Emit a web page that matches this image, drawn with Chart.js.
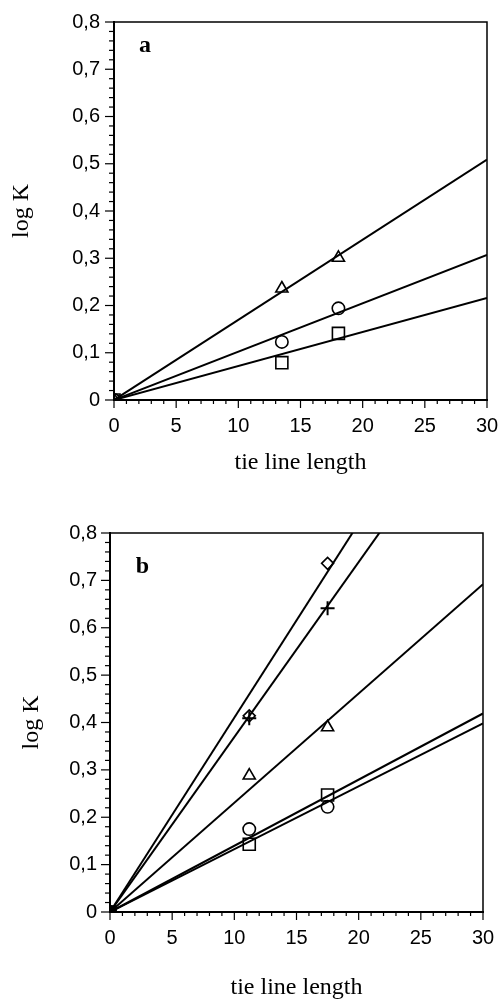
<!DOCTYPE html>
<html>
<head>
<meta charset="utf-8">
<script src="https://cdn.jsdelivr.net/npm/chart.js@4.4.1/dist/chart.umd.min.js"></script>
<style>
html, body { margin: 0; padding: 0; background: #fff; overflow: hidden; }
#wrapA { position: absolute; left: 0; top: 0; }
#wrapB { position: absolute; left: 0; top: 480px; }
</style>
</head>
<body>
<div id="wrapA"><canvas id="chartA" width="498" height="480"></canvas></div>
<div id="wrapB"><canvas id="chartB" width="498" height="540"></canvas></div>
<script>
// tick labels, comma decimals as in the figure
var xTickLabels = ['0', '5', '10', '15', '20', '25', '30'];
var yTickLabels = ['0', '0,1', '0,2', '0,3', '0,4', '0,5', '0,6', '0,7', '0,8'];

// panel a
var lengthA = [0, 13.5, 18.05];
var triangleA = [0, 0.236, 0.301];
var circleA = [0, 0.123, 0.194];
var squareA = [0, 0.079, 0.141];
// fitted lines from the origin: value at length 30 (triangle, circle, square)
var fitEndA = [0.509, 0.307, 0.216];

// panel b
var lengthB = [0, 11.2, 17.5];
var diamondB = [0, 0.414, 0.736];
var plusB = [0, 0.409, 0.641];
var triangleB = [0, 0.288, 0.390];
var circleB = [0, 0.175, 0.222];
var squareB = [0, 0.143, 0.247];
// diamond, plus, triangle, circle, square
var fitEndB = [1.231, 1.108, 0.692, 0.398, 0.419];

function pts(xs, ys) {
    return xs.map(function (x, i) { return { x: x, y: ys[i] }; });
}

function markers(xs, ys, style, r, bw) {
    return {
        data: pts(xs, ys),
        pointStyle: style,
        pointRadius: r,
        pointBorderColor: '#000',
        pointBackgroundColor: 'rgba(0,0,0,0)',
        pointBorderWidth: bw || 1.6,
        showLine: false
    };
}

function fitLine(end) {
    return {
        data: [{ x: 0, y: 0 }, { x: 30, y: end }],
        showLine: true,
        borderColor: '#000',
        borderWidth: 2,
        pointRadius: 0
    };
}

// top/right frame, major + minor tick marks, panel letter
var frameTicks = {
    id: 'frameTicks',
    afterDraw: function (chart, args, opts) {
        var ctx = chart.ctx, a = chart.chartArea;
        var xs = chart.scales.x, ys = chart.scales.y;
        ctx.save();
        ctx.strokeStyle = '#000';
        ctx.lineWidth = 1.5;
        ctx.beginPath();
        ctx.moveTo(a.left, a.top);
        ctx.lineTo(a.right, a.top);
        ctx.lineTo(a.right, a.bottom);
        ctx.stroke();

        ctx.lineWidth = 1.2;
        xs.ticks.forEach(function (t) {
            var p = xs.getPixelForValue(t.value);
            var major = Math.round(t.value) % 5 === 0;
            ctx.beginPath();
            ctx.moveTo(p, a.bottom);
            ctx.lineTo(p, a.bottom + (major ? 8 : 4));
            ctx.stroke();
        });
        ys.ticks.forEach(function (t) {
            var p = ys.getPixelForValue(t.value);
            var major = Math.round(t.value * 50) % 5 === 0;
            ctx.beginPath();
            ctx.moveTo(a.left, p);
            ctx.lineTo(a.left - (major ? 9 : 5), p);
            ctx.stroke();
        });

        ctx.font = 'bold 24px "Liberation Serif"';
        ctx.fillStyle = '#000';
        ctx.textAlign = 'center';
        ctx.textBaseline = 'middle';
        ctx.fillText(opts.letter, xs.getPixelForValue(opts.at[0]), ys.getPixelForValue(opts.at[1]));
        ctx.restore();
    }
};

function makeOptions(cfg) {
    return {
        responsive: false,
        animation: false,
        layout: { padding: { top: cfg.top, right: cfg.right, left: 0, bottom: 0 } },
        plugins: {
            legend: { display: false },
            tooltip: { enabled: false },
            frameTicks: { letter: cfg.letter, at: cfg.letterAt }
        },
        scales: {
            x: {
                type: 'linear', min: 0, max: 30,
                ticks: {
                    stepSize: 1, autoSkip: false, maxRotation: 0, padding: 14, color: '#000',
                    font: { family: 'Liberation Sans', size: 20 },
                    callback: function (v) {
                        var k = Math.round(v);
                        return k % 5 === 0 ? xTickLabels[k / 5] : '';
                    }
                },
                grid: { display: true, drawOnChartArea: false, drawTicks: false },
                border: { display: true, color: '#000', width: 2 },
                title: {
                    display: true, text: 'tie line length', color: '#000',
                    font: { family: 'Liberation Serif', size: 24 },
                    padding: { top: 0, bottom: cfg.xTitlePad }
                },
                afterFit: function (s) {
                    s.height = cfg.xHeight;
                    s.paddingLeft = 0;
                    s.paddingRight = 0;
                }
            },
            y: {
                type: 'linear', min: 0, max: 0.8,
                ticks: {
                    stepSize: 0.02, autoSkip: false, padding: cfg.yTickPad, color: '#000',
                    font: { family: 'Liberation Sans', size: 20 },
                    callback: function (v) {
                        var k = Math.round(v * 50);
                        return k % 5 === 0 ? yTickLabels[k / 5] : '';
                    }
                },
                grid: { display: true, drawOnChartArea: false, drawTicks: false },
                border: { display: true, color: '#000', width: 2 },
                title: {
                    display: true, text: 'log K', color: '#000',
                    font: { family: 'Liberation Serif', size: 24 },
                    padding: { top: cfg.yTitlePad, bottom: 0 }
                },
                afterFit: function (s) {
                    s.width = cfg.yWidth;
                    s.paddingTop = 0;
                    s.paddingBottom = 0;
                }
            }
        }
    };
}

new Chart(document.getElementById('chartA'), {
    type: 'scatter',
    data: {
        datasets: [
            fitLine(fitEndA[0]),
            fitLine(fitEndA[1]),
            fitLine(fitEndA[2]),
            markers(lengthA, triangleA, 'triangle', 7),
            markers(lengthA, circleA, 'circle', 6.2),
            markers(lengthA, squareA, 'rect', 8.5)
        ]
    },
    options: makeOptions({
        top: 22, right: 11, xHeight: 80, xTitlePad: 3, yWidth: 114,
        yTitlePad: 7, yTickPad: 14, letter: 'a', letterAt: [2.5, 0.75]
    }),
    plugins: [frameTicks]
});

new Chart(document.getElementById('chartB'), {
    type: 'scatter',
    data: {
        datasets: [
            fitLine(fitEndB[0]),
            fitLine(fitEndB[1]),
            fitLine(fitEndB[2]),
            fitLine(fitEndB[3]),
            fitLine(fitEndB[4]),
            markers(lengthB, diamondB, 'rectRot', 6),
            markers(lengthB, plusB, 'cross', 7, 2),
            markers(lengthB, triangleB, 'triangle', 7),
            markers(lengthB, circleB, 'circle', 6.2),
            markers(lengthB, squareB, 'rect', 8.5)
        ]
    },
    options: makeOptions({
        top: 53, right: 15, xHeight: 108, xTitlePad: 18, yWidth: 110,
        yTitlePad: 17, yTickPad: 13, letter: 'b', letterAt: [2.6, 0.728]
    }),
    plugins: [frameTicks]
});
</script>
</body>
</html>
